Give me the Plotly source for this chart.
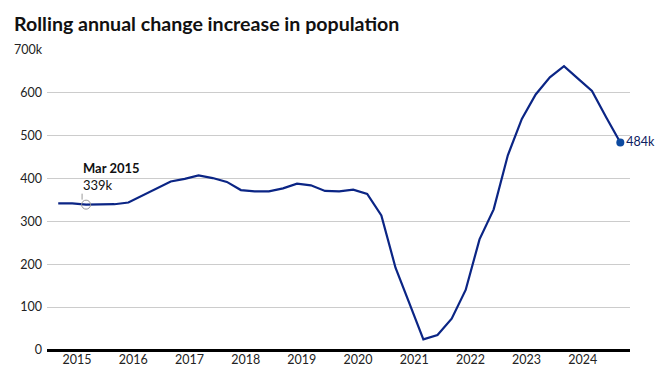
import plotly.graph_objects as go

dates = [
    "2014-09-01", "2014-12-01",
    "2015-03-01", "2015-06-01", "2015-09-01", "2015-12-01",
    "2016-03-01", "2016-06-01", "2016-09-01", "2016-12-01",
    "2017-03-01", "2017-06-01", "2017-09-01", "2017-12-01",
    "2018-03-01", "2018-06-01", "2018-09-01", "2018-12-01",
    "2019-03-01", "2019-06-01", "2019-09-01", "2019-12-01",
    "2020-03-01", "2020-06-01", "2020-09-01", "2020-12-01",
    "2021-03-01", "2021-06-01", "2021-09-01", "2021-12-01",
    "2022-03-01", "2022-06-01", "2022-09-01", "2022-12-01",
    "2023-03-01", "2023-06-01", "2023-09-01", "2023-12-01",
    "2024-03-01", "2024-06-01", "2024-09-01",
]
population_change_k = [
    342, 342,
    339, 340, 340, 344,
    360, 377, 393, 399,
    407, 401, 392, 373,
    370, 370, 377, 388,
    384, 371, 370, 374,
    364, 314, 192, 108,
    25, 35, 73, 140,
    258, 328, 454, 539,
    596, 636, 662, 633,
    604, 543, 484,
]
highlight_index = 2  # Mar 2015
highlight_label = "Mar 2015"

y_tick_vals = [0, 100, 200, 300, 400, 500, 600, 700]
y_tick_text = ["0", "100", "200", "300", "400", "500", "600", "700k"]
x_tick_vals = [f"{y}-01-01" for y in range(2015, 2025)]
x_tick_text = [str(y) for y in range(2015, 2025)]

LINE = "#0b2585"
FONT = "Lato"

fig = go.Figure()
fig.add_trace(go.Scatter(
    x=dates, y=population_change_k, mode="lines",
    line=dict(color=LINE, width=2.2), hoverinfo="skip", showlegend=False,
))
# last point
fig.add_trace(go.Scatter(
    x=[dates[-1]], y=[population_change_k[-1]], mode="markers+text",
    marker=dict(color="#0d4aa0", size=8),
    text=[f"{population_change_k[-1]}k"], textposition="middle right",
    textfont=dict(family=FONT, size=12.5, color="#0b2060"),
    cliponaxis=False, showlegend=False, hoverinfo="skip",
))
# highlighted point
fig.add_trace(go.Scatter(
    x=[dates[highlight_index]], y=[population_change_k[highlight_index]],
    mode="markers",
    marker=dict(color="rgba(255,255,255,0)", size=9, line=dict(color="#999999", width=1)),
    showlegend=False, hoverinfo="skip", cliponaxis=False,
))
hx, hy = dates[highlight_index], population_change_k[highlight_index]
fig.add_annotation(
    x=hx, y=hy, text=f"{hy}k",
    showarrow=True, arrowhead=0, arrowcolor="#999999", arrowwidth=1,
    ax=0, ay=-11, standoff=5, xanchor="left", yanchor="bottom",
    align="left", font=dict(family=FONT, size=13, color="#111111"),
    xshift=-4, borderpad=0,
)
fig.add_annotation(
    x=hx, y=hy, text=f"<b>{highlight_label}</b>",
    showarrow=False, xanchor="left", yanchor="middle",
    align="left", font=dict(family=FONT, size=13, color="#111111"),
    xshift=-4, yshift=37, borderpad=0,
)

fig.update_layout(
    width=658, height=382,
    margin=dict(l=39, r=36, t=41, b=40, autoexpand=False),
    paper_bgcolor="white", plot_bgcolor="white",
    title=dict(text="<b>Rolling annual change increase in population</b>",
               x=6 / 658, xanchor="left", y=1 - 16 / 382, yanchor="middle",
               font=dict(family=FONT, size=19.6, color="#111111")),
    font=dict(family=FONT, size=12, color="#222222"),
    xaxis=dict(
        type="date", range=["2014-06-20", "2024-11-03"],
        tickvals=x_tick_vals, ticktext=x_tick_text, automargin=False,
        showgrid=False, zeroline=False, showline=False, ticks="",
        tickfont=dict(family=FONT, size=12.5, color="#222222"),
    ),
    yaxis=dict(
        range=[0, 702], tickvals=y_tick_vals, ticktext=y_tick_text,
        showgrid=True, gridcolor="#cccccc", gridwidth=1, automargin=False,
        zeroline=True, zerolinecolor="#000000", zerolinewidth=2.5,
        ticks="", showline=False, ticklabelstandoff=4,
        tickfont=dict(family=FONT, size=12.5, color="#222222"),
    ),
)

fig.write_html("out.html")
